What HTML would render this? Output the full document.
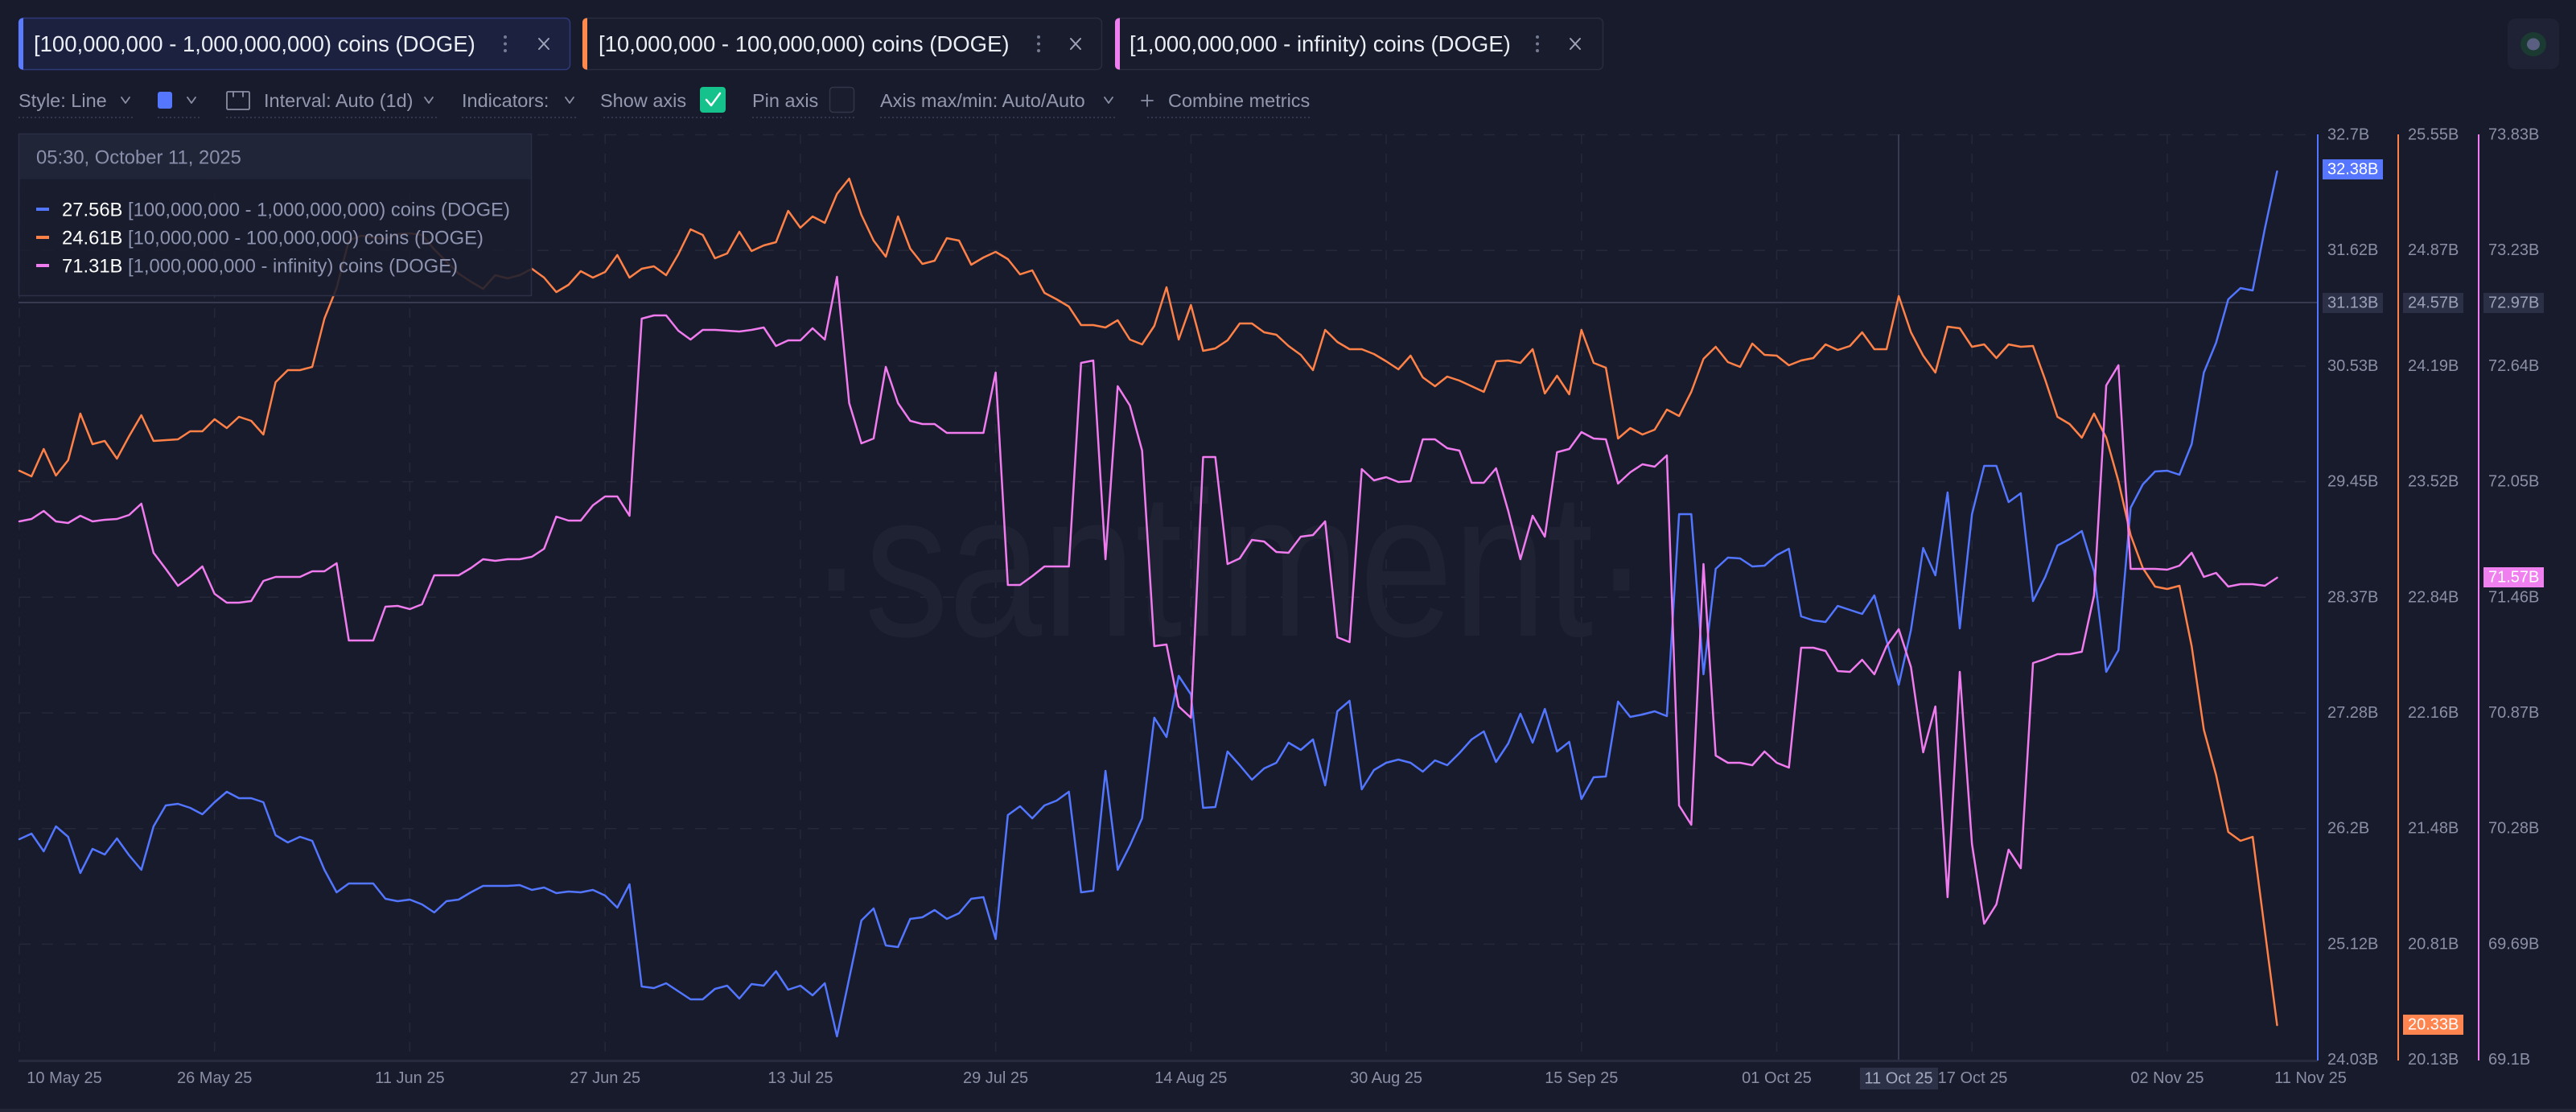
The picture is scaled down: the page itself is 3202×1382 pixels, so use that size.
<!DOCTYPE html>
<html><head><meta charset="utf-8"><style>
html,body{margin:0;padding:0;background:#181b2b;width:3202px;height:1382px;overflow:hidden}
svg{display:block}
text{font-family:"Liberation Sans",Arial,sans-serif}
</style></head><body>
<svg width="3202" height="1382" viewBox="0 0 3202 1382" xmlns="http://www.w3.org/2000/svg">
<rect width="3202" height="1382" fill="#181b2b"/>

<!-- Tabs -->
<rect x="23.5" y="22.5" width="685" height="64" rx="6" fill="#1c2140" stroke="#2e3a7a" stroke-width="1.5"/>
<path d="M29,22.5 h-1 a5,5 0 0 0 -5,5 v54 a5,5 0 0 0 5,5 h1 z" fill="#5b7bff"/>
<rect x="724.5" y="22.5" width="645" height="64" rx="6" fill="#191c2c" stroke="#282c3f" stroke-width="1.5"/>
<path d="M730,22.5 h-1 a5,5 0 0 0 -5,5 v54 a5,5 0 0 0 5,5 h1 z" fill="#ff8a4c"/>
<rect x="1386.5" y="22.5" width="606" height="64" rx="6" fill="#191c2c" stroke="#282c3f" stroke-width="1.5"/>
<path d="M1392,22.5 h-1 a5,5 0 0 0 -5,5 v54 a5,5 0 0 0 5,5 h1 z" fill="#ef7ff0"/>
<g font-size="27.5" fill="#eceef6">
<text x="42" y="64">[100,000,000 - 1,000,000,000) coins (DOGE)</text>
<text x="744" y="64">[10,000,000 - 100,000,000) coins (DOGE)</text>
<text x="1404" y="64">[1,000,000,000 - infinity) coins (DOGE)</text>
</g>
<g fill="#767b92">
<circle cx="628" cy="46" r="2"/><circle cx="628" cy="54.5" r="2"/><circle cx="628" cy="63" r="2"/>
<circle cx="1291" cy="46" r="2"/><circle cx="1291" cy="54.5" r="2"/><circle cx="1291" cy="63" r="2"/>
<circle cx="1911" cy="46" r="2"/><circle cx="1911" cy="54.5" r="2"/><circle cx="1911" cy="63" r="2"/>
</g>
<g stroke="#9ea3b8" stroke-width="2" stroke-linecap="round">
<path d="M670,48 L682,61 M682,48 L670,61"/>
<path d="M1331,48 L1343,61 M1343,48 L1331,61"/>
<path d="M1952,48 L1964,61 M1964,48 L1952,61"/>
</g>

<!-- Top-right icon -->
<rect x="3117" y="23" width="64" height="63" rx="10" fill="#1f2234"/>
<ellipse cx="3149" cy="55" rx="16" ry="15" fill="#1b3a31"/>
<ellipse cx="3149" cy="55" rx="8" ry="7.5" fill="#5a5f82"/>

<!-- Toolbar -->
<g font-size="23.5" fill="#9398ae">
<text x="23" y="133">Style: Line</text>
<text x="328" y="133">Interval: Auto (1d)</text>
<text x="574" y="133">Indicators:</text>
<text x="746" y="133">Show axis</text>
<text x="935" y="133">Pin axis</text>
<text x="1094" y="133">Axis max/min: Auto/Auto</text>
<text x="1452" y="133">Combine metrics</text>
</g>
<g stroke="#8a8fa5" stroke-width="1.8" fill="none" stroke-linecap="round" stroke-linejoin="round">
<path d="M151,121 L156,128 L161,121"/>
<path d="M233,121 L238,128 L243,121"/>
<path d="M528,121 L533,128 L538,121"/>
<path d="M703,121 L708,128 L713,121"/>
<path d="M1373,121 L1378,128 L1383,121"/>
<path d="M1419,125 H1433 M1426,118 V132"/>
<rect x="282" y="114" width="28" height="22" rx="1.5"/>
<path d="M290,114 V120 M302,114 V120"/>
</g>
<rect x="196" y="114" width="18" height="21" rx="3" fill="#5577ff"/>
<rect x="870" y="108" width="32" height="32" rx="4" fill="#16c28b"/>
<path d="M878,124 L884,131 L895,116" stroke="#ffffff" stroke-width="2.5" fill="none" stroke-linecap="round" stroke-linejoin="round"/>
<rect x="1031.5" y="108.5" width="30" height="31" rx="4" fill="#1a1d2d" stroke="#30354a" stroke-width="1.5"/>
<g stroke="#3a3f56" stroke-width="1.5" stroke-dasharray="2 3">
<path d="M23,146 H165 M196,146 H248 M281,146 H544 M574,146 H716 M750,146 H899 M935,146 H1062 M1094,146 H1389 M1426,146 H1630"/>
</g>

<!-- Gridlines -->
<g stroke="#242839" stroke-width="1.5" stroke-dasharray="14 14">
<path d="M24,167.5 H2866 M24,311.2 H2866 M24,454.9 H2866 M24,598.6 H2866 M24,742.3 H2866 M24,886 H2866 M24,1029.7 H2866 M24,1173.4 H2866"/>
</g>
<g stroke="#242839" stroke-width="1.5" stroke-dasharray="12 12">
<path d="M24,167 V1318 M266.7,167 V1318 M509.4,167 V1318 M752.2,167 V1318 M994.9,167 V1318 M1237.6,167 V1318 M1480.3,167 V1318 M1723,167 V1318 M1965.8,167 V1318 M2208.5,167 V1318 M2451.2,167 V1318 M2693.9,167 V1318"/>
</g>

<!-- Watermark -->
<text x="1005" y="790" font-size="256" fill="#1e2233" textLength="1045" lengthAdjust="spacingAndGlyphs">·santiment·</text>

<!-- Crosshair -->
<path d="M2360,167 V1318" stroke="#363b52" stroke-width="2"/>
<path d="M23,376 H2881" stroke="#363b52" stroke-width="2"/>

<!-- Series -->
<g transform="translate(24,0) scale(15.17,1)" fill="none" stroke-width="2.5" stroke-linejoin="round" stroke-linecap="round">
<polyline vector-effect="non-scaling-stroke" stroke="#5276ff" points="0,1043 1,1036 2,1058 3,1027 4,1040 5,1085 6,1055 7,1062 8,1042 9,1063 10,1081 11,1027 12,1001 13,999 14,1004 15,1012 16,997 17,984 18,992 19,992 20,997 21,1038 22,1047 23,1040 24,1045 25,1081 26,1109 27,1098 28,1098 29,1098 30,1117 31,1120 32,1118 33,1124 34,1134 35,1120 36,1118 37,1109 38,1101 39,1101 40,1101 41,1100 42,1106 43,1103 44,1110 45,1108 46,1109 47,1106 48,1113 49,1128 50,1099 51,1226 52,1228 53,1222 54,1232 55,1242 56,1242 57,1229 58,1225 59,1241 60,1223 61,1225 62,1207 63,1230 64,1225 65,1237 66,1222 67,1288 68,1216 69,1144 70,1129 71,1175 72,1177 73,1142 74,1140 75,1131 76,1142 77,1135 78,1117 79,1115 80,1167 81,1013 82,1002 83,1017 84,1001 85,995 86,984 87,1109 88,1107 89,958 90,1081 91,1051 92,1017 93,892 94,916 95,840 96,863 97,1004 98,1003 99,934 100,951 101,969 102,955 103,948 104,923 105,932 106,919 107,976 108,884 109,871 110,981 111,957 112,948 113,944 114,948 115,959 116,945 117,951 118,936 119,919 120,909 121,947 122,924 123,887 124,923 125,881 126,934 127,922 128,993 129,966 130,965 131,872 132,891 133,888 134,884 135,890 136,639 137,639 138,838 139,707 140,693 141,694 142,704 143,703 144,690 145,682 146,766 147,771 148,773 149,753 150,758 151,763 152,740 153,796 154,851 155,783 156,681 157,715 158,612 159,781 160,639 161,579 162,579 163,624 164,613 165,747 166,717 167,678 168,670 169,660 170,710 171,835 172,808 173,631 174,602 175,586 176,585 177,590 178,552 179,463 180,426 181,372 182,358 183,361 184,284 185,213"/>
<polyline vector-effect="non-scaling-stroke" stroke="#ff8147" points="0,585 1,592 2,558 3,591 4,572 5,514 6,552 7,548 8,570 9,542 10,516 11,548 12,547 13,546 14,536 15,536 16,521 17,532 18,518 19,523 20,540 21,475 22,460 23,460 24,456 25,396 26,358 27,299 28,293 29,295 30,297 31,291 32,290 33,292 34,310 35,325 36,340 37,350 38,359 39,342 40,346 41,342 42,334 43,345 44,363 45,354 46,337 47,345 48,338 49,317 50,345 51,334 52,331 53,342 54,316 55,285 56,292 57,321 58,315 59,288 60,312 61,305 62,301 63,262 64,283 65,269 66,277 67,241 68,222 69,267 70,299 71,319 72,269 73,309 74,328 75,324 76,296 77,299 78,329 79,320 80,313 81,322 82,341 83,336 84,364 85,372 86,381 87,404 88,404 89,407 90,398 91,422 92,428 93,405 94,357 95,422 96,379 97,436 98,433 99,423 100,402 101,402 102,413 103,416 104,430 105,441 106,460 107,410 108,425 109,434 110,434 111,440 112,449 113,459 114,442 115,469 116,480 117,468 118,473 119,480 120,487 121,449 122,448 123,451 124,434 125,489 126,467 127,490 128,410 129,451 130,457 131,545 132,532 133,540 134,534 135,509 136,517 137,487 138,446 139,431 140,450 141,456 142,427 143,441 144,442 145,454 146,448 147,445 148,428 149,435 150,430 151,413 152,434 153,434 154,368 155,413 156,442 157,463 158,406 159,408 160,431 161,428 162,445 163,428 164,431 165,430 166,472 167,518 168,527 169,544 170,514 171,544 172,598 173,665 174,706 175,729 176,732 177,728 178,803 179,907 180,963 181,1034 182,1045 183,1040 184,1157 185,1274"/>
<polyline vector-effect="non-scaling-stroke" stroke="#f07bef" points="0,648 1,645 2,635 3,648 4,650 5,641 6,648 7,646 8,645 9,640 10,626 11,687 12,707 13,728 14,717 15,704 16,738 17,749 18,749 19,747 20,722 21,717 22,717 23,717 24,710 25,710 26,700 27,796 28,796 29,796 30,754 31,753 32,757 33,751 34,715 35,715 36,715 37,706 38,695 39,697 40,695 41,695 42,692 43,682 44,642 45,647 46,647 47,628 48,617 49,617 50,641 51,396 52,392 53,392 54,411 55,422 56,410 57,410 58,411 59,412 60,410 61,407 62,430 63,423 64,423 65,408 66,422 67,344 68,501 69,551 70,545 71,456 72,501 73,523 74,527 75,527 76,538 77,538 78,538 79,538 80,463 81,727 82,727 83,716 84,704 85,704 86,704 87,451 88,448 89,695 90,480 91,504 92,560 93,803 94,801 95,878 96,892 97,568 98,568 99,701 100,694 101,671 102,673 103,686 104,687 105,667 106,665 107,648 108,792 109,798 110,583 111,597 112,593 113,599 114,598 115,546 116,546 117,557 118,560 119,600 120,600 121,582 122,635 123,695 124,641 125,667 126,562 127,558 128,537 129,545 130,546 131,601 132,587 133,577 134,580 135,566 136,1001 137,1025 138,701 139,939 140,948 141,948 142,951 143,934 144,948 145,954 146,805 147,805 148,809 149,834 150,835 151,820 152,838 153,803 154,782 155,829 156,935 157,878 158,1115 159,835 160,1049 161,1148 162,1124 163,1056 164,1079 165,824 166,819 167,813 168,813 169,810 170,740 171,479 172,454 173,707 174,707 175,707 176,708 177,703 178,687 179,717 180,712 181,729 182,726 183,726 184,728 185,718"/>
</g>

<!-- X axis line -->
<path d="M23,1318.5 H2881" stroke="#272b3d" stroke-width="3"/>

<!-- Right axes -->
<path d="M2881,167 V1318" stroke="#5276ff" stroke-width="2"/>
<path d="M2981,167 V1318" stroke="#ff8147" stroke-width="2"/>
<path d="M3081,167 V1318" stroke="#f07bef" stroke-width="2"/>

<g font-size="20" fill="#8a8fa6" dominant-baseline="central">
<text x="2893" y="167.5">32.7B</text><text x="2993" y="167.5">25.55B</text><text x="3093" y="167.5">73.83B</text>
<text x="2893" y="311.2">31.62B</text><text x="2993" y="311.2">24.87B</text><text x="3093" y="311.2">73.23B</text>
<text x="2893" y="454.9">30.53B</text><text x="2993" y="454.9">24.19B</text><text x="3093" y="454.9">72.64B</text>
<text x="2893" y="598.6">29.45B</text><text x="2993" y="598.6">23.52B</text><text x="3093" y="598.6">72.05B</text>
<text x="2893" y="742.3">28.37B</text><text x="2993" y="742.3">22.84B</text><text x="3093" y="742.3">71.46B</text>
<text x="2893" y="886">27.28B</text><text x="2993" y="886">22.16B</text><text x="3093" y="886">70.87B</text>
<text x="2893" y="1029.7">26.2B</text><text x="2993" y="1029.7">21.48B</text><text x="3093" y="1029.7">70.28B</text>
<text x="2893" y="1173.4">25.12B</text><text x="2993" y="1173.4">20.81B</text><text x="3093" y="1173.4">69.69B</text>
<text x="2893" y="1317">24.03B</text><text x="2993" y="1317">20.13B</text><text x="3093" y="1317">69.1B</text>
</g>

<!-- Crosshair value boxes -->
<rect x="2887" y="364" width="75" height="25" fill="#2b3047"/>
<rect x="2987" y="364" width="75" height="25" fill="#2b3047"/>
<rect x="3087" y="364" width="75" height="25" fill="#2b3047"/>
<g font-size="20" fill="#9ca1b9" dominant-baseline="central">
<text x="2893" y="376.5">31.13B</text><text x="2993" y="376.5">24.57B</text><text x="3093" y="376.5">72.97B</text>
</g>
<!-- Last value boxes -->
<rect x="2887" y="198" width="75" height="25" fill="#5676ff"/>
<rect x="3087" y="705" width="75" height="25" fill="#f07ff0"/>
<rect x="2987" y="1261" width="75" height="25" fill="#ff8550"/>
<g font-size="20" fill="#ffffff" dominant-baseline="central">
<text x="2893" y="210.5">32.38B</text>
<text x="3093" y="717.5">71.57B</text>
<text x="2993" y="1273.5">20.33B</text>
</g>

<!-- X labels -->
<g font-size="20" fill="#8a8fa6" dominant-baseline="central" text-anchor="middle">
<text x="80" y="1340">10 May 25</text>
<text x="266.7" y="1340">26 May 25</text>
<text x="509.4" y="1340">11 Jun 25</text>
<text x="752.2" y="1340">27 Jun 25</text>
<text x="994.9" y="1340">13 Jul 25</text>
<text x="1237.6" y="1340">29 Jul 25</text>
<text x="1480.3" y="1340">14 Aug 25</text>
<text x="1723" y="1340">30 Aug 25</text>
<text x="1965.8" y="1340">15 Sep 25</text>
<text x="2208.5" y="1340">01 Oct 25</text>
<text x="2452" y="1340">17 Oct 25</text>
<text x="2693.9" y="1340">02 Nov 25</text>
<text x="2872" y="1340">11 Nov 25</text>
</g>
<rect x="2312" y="1327" width="97" height="27" fill="#2c3148"/>
<text x="2360" y="1340.5" font-size="20" fill="#a5aac0" dominant-baseline="central" text-anchor="middle">11 Oct 25</text>

<!-- Bottom border -->
<rect x="0" y="1378" width="3202" height="4" fill="#232737"/>

<!-- Tooltip -->
<rect x="23.5" y="166.5" width="637" height="201" fill="rgba(25,28,45,0.88)" stroke="#2c3046" stroke-width="1.5"/>
<rect x="24.25" y="167.25" width="635.5" height="55.5" fill="#212538"/>
<text x="45" y="203.5" font-size="23.8" fill="#8a90ab">05:30, October 11, 2025</text>
<rect x="45" y="258" width="16" height="4" fill="#5276ff"/>
<rect x="45" y="293" width="16" height="4" fill="#ff8147"/>
<rect x="45" y="328" width="16" height="4" fill="#f07bef"/>
<g font-size="23.8">
<text x="77" y="268.5"><tspan fill="#ffffff">27.56B</tspan><tspan fill="#8e93b0"> [100,000,000 - 1,000,000,000) coins (DOGE)</tspan></text>
<text x="77" y="303.5"><tspan fill="#ffffff">24.61B</tspan><tspan fill="#8e93b0"> [10,000,000 - 100,000,000) coins (DOGE)</tspan></text>
<text x="77" y="338.5"><tspan fill="#ffffff">71.31B</tspan><tspan fill="#8e93b0"> [1,000,000,000 - infinity) coins (DOGE)</tspan></text>
</g>
</svg>
</body></html>
